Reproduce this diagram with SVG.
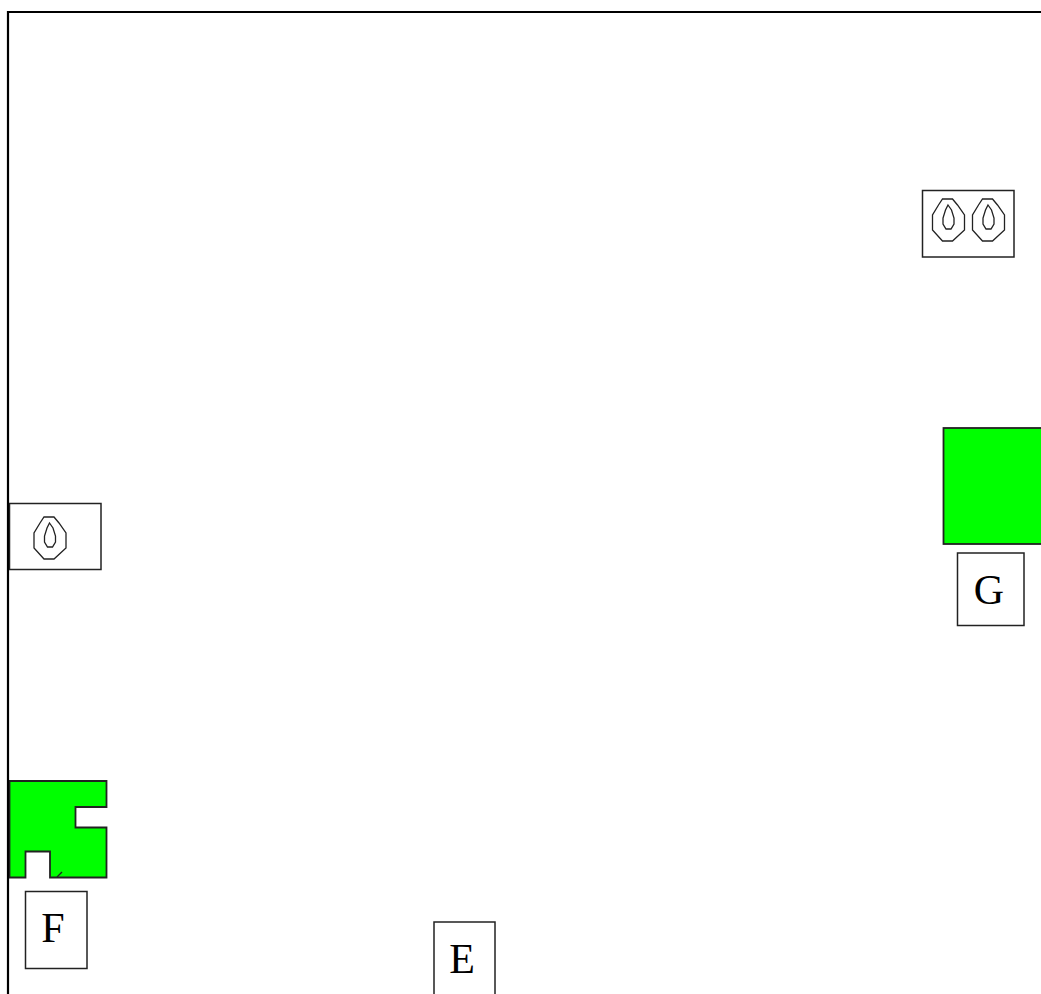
<svg xmlns="http://www.w3.org/2000/svg" width="1041" height="994" viewBox="0 0 1041 994">
<style>
.box{fill:#fff;stroke:#222;stroke-width:1.5}
.green{fill:#0f0;stroke:#222;stroke-width:1.8}
.frame{fill:none;stroke:#000;stroke-width:2.2}
.ln{fill:none;stroke:#222;stroke-width:1.3}
text{font-family:"Liberation Serif","Times New Roman",serif;font-size:42px;fill:#000;text-anchor:middle}
</style>
<defs>
<g id="seed">
<path class="ln" d="M-6,-24 L4,-24 L9,-18 L16,-8 L16,7 L4,18 L-6,18 L-16,7 L-16,-8 L-10,-18 Z"/>
<path class="ln" d="M-0.5,-18 L3,-13 L5.5,-5 L5.5,1 L2.5,6 L-2.5,6 L-5.5,1 L-5.5,-5 L-3,-13 Z"/>
</g>
</defs>
<rect width="1041" height="994" fill="#fff"/>
<g id="node-seeds-top">
<rect class="box" x="922.5" y="190.5" width="91.5" height="66.5"/>
<use href="#seed" x="948.5" y="223"/>
<use href="#seed" x="988.5" y="223"/>
</g>
<g id="node-seed-left">
<rect class="box" x="9.5" y="503.5" width="91.5" height="66"/>
<use href="#seed" x="50" y="541"/>
</g>
<g id="node-green-left">
<path class="green" d="M9.5,781 H106.5 V807 H75.5 V827.5 H106.5 V877.5 H50 V851.5 H25.5 V877.5 H9.5 Z"/>
<path class="ln" d="M57,877 L62,872"/>
</g>
<g id="node-F">
<rect class="box" x="25.5" y="891.5" width="61.5" height="77"/>
<text x="53" y="942">F</text>
</g>
<g id="node-E">
<rect class="box" x="434" y="922" width="61" height="80"/>
<text x="462" y="973">E</text>
</g>
<g id="node-green-right">
<rect class="green" x="943.5" y="428" width="100" height="116"/>
</g>
<g id="node-G">
<rect class="box" x="957.5" y="553" width="66.5" height="72.5"/>
<text x="989" y="604">G</text>
</g>
<path id="frame" class="frame" d="M8,994 V12 H1041"/>
<g id="connectors"></g>
</svg>
